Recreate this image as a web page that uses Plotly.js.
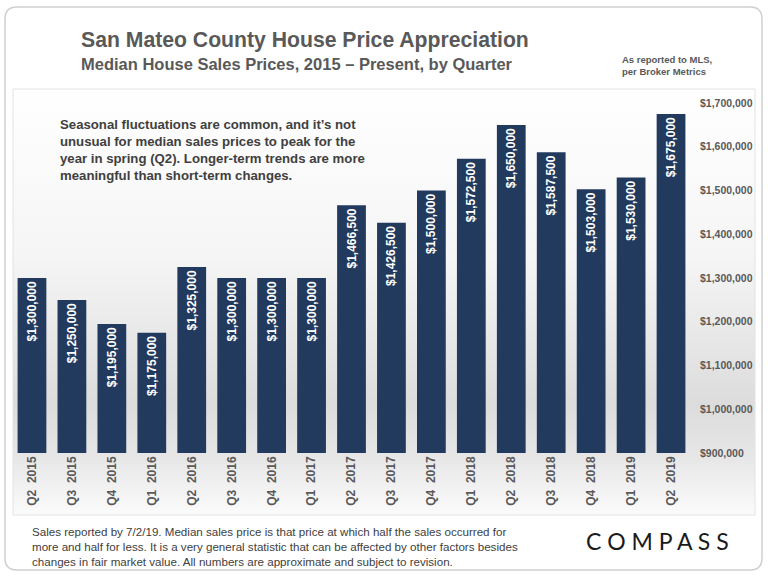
<!DOCTYPE html>
<html>
<head>
<meta charset="utf-8">
<script src="https://cdn.plot.ly/plotly-3.0.1.min.js"></script>
<style>
html,body{margin:0;padding:0;background:#fff;}
#chart{width:768px;height:576px;}
</style>
</head>
<body>
<div id="chart"></div>
<script>
const quarters = ["Q2 2015","Q3 2015","Q4 2015","Q1 2016","Q2 2016","Q3 2016","Q4 2016","Q1 2017","Q2 2017","Q3 2017","Q4 2017","Q1 2018","Q2 2018","Q3 2018","Q4 2018","Q1 2019","Q2 2019"];
const medianPrice = [1300000,1250000,1195000,1175000,1325000,1300000,1300000,1300000,1466500,1426500,1500000,1572500,1650000,1587500,1503000,1530000,1675000];
const yTickVals = [900000,1000000,1100000,1200000,1300000,1400000,1500000,1600000,1700000];

const fmt = v => "$" + v.toLocaleString("en-US");

// pixel helpers for decoration placement (plot area: x 12..691, y 103..453)
const L = 12, R = 691, T = 103, B = 453;
const px = p => (p - L) / (R - L);
const py = p => (B - p) / (B - T);

const gradSvg = '<svg xmlns="http://www.w3.org/2000/svg" width="100" height="100" preserveAspectRatio="none">' +
  '<defs><linearGradient id="g" x1="0" y1="0" x2="0" y2="1">' +
  '<stop offset="0" stop-color="#ffffff"/>' +
  '<stop offset="0.4" stop-color="#f5f5f5"/>' +
  '<stop offset="0.74" stop-color="#dcdcdc"/>' +
  '<stop offset="0.86" stop-color="#e6e6e6"/>' +
  '<stop offset="1" stop-color="#fbfbfb"/>' +
  '</linearGradient></defs><rect width="100" height="100" fill="url(#g)"/></svg>';
const gradUri = "data:image/svg+xml;base64," + btoa(gradSvg);

const trace = {
  type: "bar",
  x: quarters,
  y: medianPrice,
  marker: {color: "#223a5e"},
  width: 0.72,
  text: medianPrice.map(fmt),
  textposition: "inside",
  insidetextanchor: "end",
  textangle: -90,
  constraintext: "none",
  textfont: {family: "Liberation Sans, Arial, sans-serif", size: 12, color: "#ffffff", weight: "bold"},
  hoverinfo: "skip"
};

const layout = {
  width: 768, height: 576,
  margin: {l: L, r: 768 - R, t: T, b: 576 - B, pad: 0},
  paper_bgcolor: "rgba(0,0,0,0)",
  plot_bgcolor: "rgba(0,0,0,0)",
  showlegend: false,
  bargap: 0.28,
  xaxis: {
    type: "category",
    tickangle: -90,
    showgrid: false, zeroline: false, showline: false,
    ticks: "",
    tickvals: quarters,
    ticktext: quarters.map(q => q.replace(" ", "  ")),
    tickfont: {family: "Liberation Sans, Arial, sans-serif", size: 12, color: "#595959", weight: "bold"},
    automargin: false,
    fixedrange: true
  },
  yaxis: {
    side: "right",
    range: [900000, 1700000],
    tickvals: yTickVals,
    ticktext: yTickVals.map(fmt),
    showgrid: false, zeroline: false, showline: false,
    ticks: "",
    ticklabelstandoff: 8,
    tickfont: {family: "Liberation Sans, Arial, sans-serif", size: 10.5, color: "#595959", weight: "bold"},
    automargin: false,
    fixedrange: true
  },
  images: [{
    source: gradUri, xref: "paper", yref: "paper",
    x: px(13), y: py(89), sizex: px(755) - px(13), sizey: py(89) - py(515),
    xanchor: "left", yanchor: "top", sizing: "stretch", layer: "below"
  }],
  shapes: [
    {type: "path", xref: "paper", yref: "paper",
     path: (function(){
       const x0 = px(5), x1 = px(762), y0 = py(7), y1 = py(570);
       const rx = 12 / (R - L), ry = 12 / (B - T);
       return `M ${x0+rx},${y0} L ${x1-rx},${y0} Q ${x1},${y0} ${x1},${y0-ry} L ${x1},${y1+ry} Q ${x1},${y1} ${x1-rx},${y1} L ${x0+rx},${y1} Q ${x0},${y1} ${x0},${y1+ry} L ${x0},${y0-ry} Q ${x0},${y0} ${x0+rx},${y0} Z`;
     })(),
     line: {color: "#cfcfcf", width: 1.5}, fillcolor: "rgba(0,0,0,0)", layer: "below"},
    {type: "rect", xref: "paper", yref: "paper",
     x0: px(13), x1: px(755), y0: py(89), y1: py(515),
     line: {color: "#e2e2e2", width: 1}, fillcolor: "rgba(0,0,0,0)", layer: "below"}
  ],
  annotations: [
    {xref: "paper", yref: "paper", x: px(79), y: py(40), xanchor: "left", yanchor: "middle",
     text: "<b>San Mateo County House Price Appreciation</b>", showarrow: false,
     font: {family: "Liberation Sans, Arial, sans-serif", size: 21.2, color: "#595959"}},
    {xref: "paper", yref: "paper", x: px(79), y: py(64), xanchor: "left", yanchor: "middle",
     text: "<b>Median House Sales Prices, 2015 – Present, by Quarter</b>", showarrow: false,
     font: {family: "Liberation Sans, Arial, sans-serif", size: 16.5, color: "#595959"}},
    {xref: "paper", yref: "paper", x: px(620), y: py(65), xanchor: "left", yanchor: "middle",
     text: "<b>As reported to MLS,<br>per Broker Metrics</b>", showarrow: false, align: "left",
     font: {family: "Liberation Sans, Arial, sans-serif", size: 9.5, color: "#595959"}},
    {xref: "paper", yref: "paper", x: px(58), y: py(150), xanchor: "left", yanchor: "middle",
     text: "<b>Seasonal fluctuations are common, and it’s not<br>unusual for median sales prices to peak for the<br>year in spring (Q2). Longer-term trends are more<br>meaningful than short-term changes.</b>",
     showarrow: false, align: "left",
     font: {family: "Liberation Sans, Arial, sans-serif", size: 13.2, color: "#404040"}},
    {xref: "paper", yref: "paper", x: px(30), y: py(546), xanchor: "left", yanchor: "middle",
     text: "Sales reported by 7/2/19. Median sales price is that price at which half the sales occurred for<br>more and half for less. It is a very general statistic that can be affected by other factors besides<br>changes in fair market value. All numbers are approximate and subject to revision.",
     showarrow: false, align: "left",
     font: {family: "Liberation Sans, Arial, sans-serif", size: 11.6, color: "#404040"}},
    {xref: "paper", yref: "paper", x: px(657), y: py(541), xanchor: "center", yanchor: "middle",
     text: "C O M P A S S", showarrow: false,
     font: {family: "Lato, Inter, sans-serif", size: 23, color: "#1a1a1a"}}
  ]
};

Plotly.newPlot("chart", [trace], layout, {displayModeBar: false, staticPlot: true});
</script>
</body>
</html>
